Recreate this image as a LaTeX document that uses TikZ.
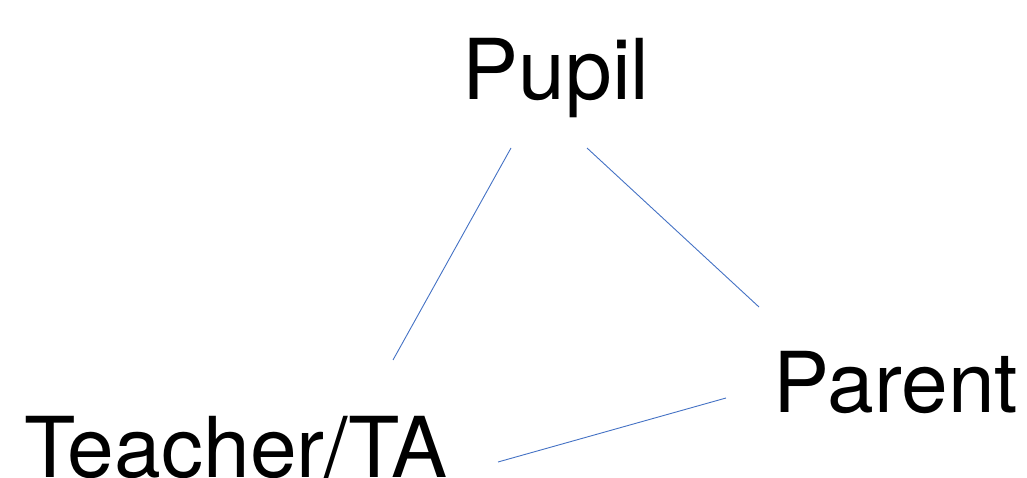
\documentclass[tikz,border=0pt]{standalone}
\usepackage{fontspec}
\setmainfont{TeX Gyre Heros}
\definecolor{linkblue}{HTML}{4472C4}
\begin{document}
\begin{tikzpicture}[x=1bp,y=-1bp,
  lbl/.style={inner sep=0pt,anchor=base,font=\fontsize{84bp}{90bp}\selectfont},
  link/.style={draw=linkblue,line width=0.9bp}]
\useasboundingbox (0,0) rectangle (1027,478);
\node[lbl] (pupil) at (556,100) {Pupil};
\node[lbl] (teacher) at (236,477) {Teacher/TA};
\node[lbl] (parent) at (896,412) {Parent};
\coordinate (pt1) at (511,148);
\coordinate (pt2) at (393,360);
\coordinate (pp1) at (587,148);
\coordinate (pp2) at (759,307);
\coordinate (tp1) at (498,462);
\coordinate (tp2) at (726,398);
\draw[link] (pt1) -- (pt2);
\draw[link] (pp1) -- (pp2);
\draw[link] (tp1) -- (tp2);
\end{tikzpicture}
\end{document}
